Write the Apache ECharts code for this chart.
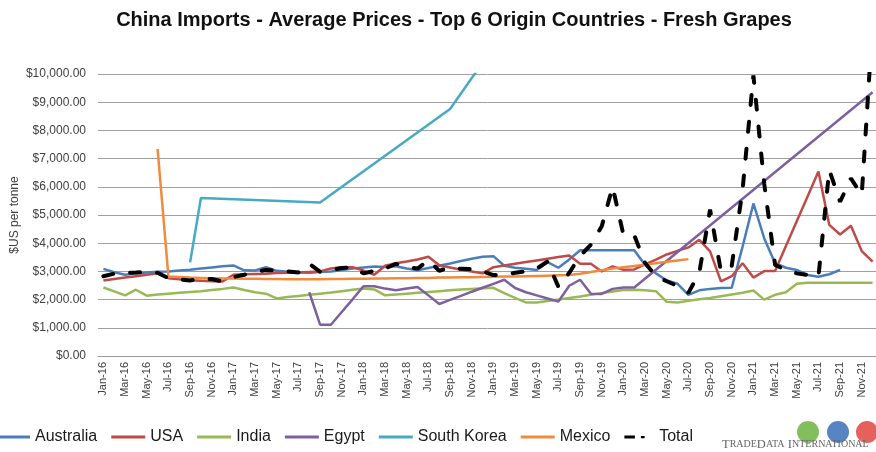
<!DOCTYPE html>
<html>
<head>
<meta charset="utf-8">
<title>China Imports - Average Prices - Fresh Grapes</title>
<script src="https://cdn.jsdelivr.net/npm/echarts@6/dist/echarts.min.js"></script>
<style>
  html, body { margin: 0; padding: 0; background: #fff; }
  #chart { width: 876px; height: 452px; }
</style>
</head>
<body>
<div id="chart"></div>
<script>
// months Jan-16 .. Dec-21
const months = [
  'Jan-16','Feb-16','Mar-16','Apr-16','May-16','Jun-16','Jul-16','Aug-16','Sep-16','Oct-16','Nov-16','Dec-16',
  'Jan-17','Feb-17','Mar-17','Apr-17','May-17','Jun-17','Jul-17','Aug-17','Sep-17','Oct-17','Nov-17','Dec-17',
  'Jan-18','Feb-18','Mar-18','Apr-18','May-18','Jun-18','Jul-18','Aug-18','Sep-18','Oct-18','Nov-18','Dec-18',
  'Jan-19','Feb-19','Mar-19','Apr-19','May-19','Jun-19','Jul-19','Aug-19','Sep-19','Oct-19','Nov-19','Dec-19',
  'Jan-20','Feb-20','Mar-20','Apr-20','May-20','Jun-20','Jul-20','Aug-20','Sep-20','Oct-20','Nov-20','Dec-20',
  'Jan-21','Feb-21','Mar-21','Apr-21','May-21','Jun-21','Jul-21','Aug-21','Sep-21','Oct-21','Nov-21','Dec-21'
];

// $US per tonne, null = no imports that month
const australia = [
  3090, 2970, 2880, 2930, 2960, 2990, 3000, 3030, 3060, 3100, 3140, 3180,
  3210, 3040, 3030, 3150, 3020, 2990, 2970, 2950, 2980, 3000, 3050, 3100,
  3140, 3170, 3160, 3180, 3100, 3040, 3120, 3200, 3280, 3370, 3450, 3520,
  3540, 3200, 3130, 3090, 3050, 3330, 3130, 3420, 3750, 3750, 3750, 3750,
  3750, 3750, 3230, 2930, 2680, 2560, 2170, 2330, 2380, 2410, 2420, 3880,
  5410, 4170, 3290, 3130, 3050, 2870, 2810, 2900, 3050, null, null, null
];
const usa = [
  2680, 2730, 2780, 2830, 2880, 2930, 2760, 2720, 2690, 2670, 2650, 2640,
  2880, 2900, 2910, 2920, 2940, 2950, 2960, 2980, 3000, 3100, 3150, 3150,
  3030, 2880, 3200, 3290, 3350, 3420, 3520, 3220, 3140, 3060, 3000, 2930,
  3150, 3210, 3270, 3330, 3390, 3450, 3510, 3560, 3270, 3270, 3000, 3180,
  3060, 3070, 3250, 3420, 3600, 3730, 3850, 4120, 3710, 2650, 2830, 3290,
  2780, 3010, 3010, 3900, 4780, 5660, 6540, 4650, 4310, 4620, 3720, 3345
];
const india = [
  2430, 2290, 2150, 2350, 2140, 2180, 2210, 2240, 2270, 2300, 2340, 2380,
  2430, 2340, 2260, 2210, 2040, 2090, 2130, 2170, 2210, 2250, 2300, 2350,
  2390, 2360, 2150, 2180, 2210, 2240, 2270, 2300, 2330, 2360, 2380, 2400,
  2420, 2230, 2060, 1900, 1900, 1950, 2000, 2060, 2110, 2170, 2230, 2290,
  2340, 2350, 2330, 2300, 1920, 1900, 1960, 2010, 2060, 2120, 2180, 2240,
  2320, 2000, 2170, 2260, 2560, 2600, 2600, 2600, 2600, 2600, 2600, 2600
];
const egypt = [
  null, null, null, null, null, null, null, null, null, null, null, null,
  null, null, null, null, null, null, null, 2260, 1110, 1110, 1560, 2010,
  2470, 2470, 2390, 2330, 2390, 2450, 2150, 1845, 1990, 2130, 2280, 2420,
  2560, 2705, 2410, 2260, 2150, 2040, 1930, 2490, 2705, 2210, 2200, 2380,
  2430, 2430, null, null, null, null, null, null, null, null, null, null,
  null, null, null, null, null, null, null, null, null, null, null, 9350
];
const southKorea = [
  null, null, null, null, null, null, null, null, 3320, 5600, null, null,
  null, null, null, null, null, null, null, null, 5440, null, null, null,
  null, null, null, null, null, null, null, null, 8760, null, null, null,
  10950, null, null, null, null, null, null, null, null, null, null, null,
  null, null, null, null, null, null, null, null, null, null, null, null,
  null, null, null, null, null, null, null, null, null, null, null, null
];
const mexico = [
  null, null, null, null, null, 7340, 2820, 2800, 2780, 2770, 2760, 2750,
  2750, 2740, 2740, 2730, 2730, 2720, 2720, 2720, 2720, 2730, 2730, 2740,
  2740, 2750, 2750, 2760, 2760, 2770, 2770, 2780, 2780, 2790, 2790, 2800,
  2810, 2820, 2820, 2830, 2840, 2850, 2860, 2870, 2920, 2980, 3040, 3100,
  3150, 3190, 3240, 3290, 3340, 3390, 3435, null, null, null, null, null,
  null, null, null, null, null, null, null, null, null, null, null, null
];
const total = [
  2830, 2920, 2950, 2960, 2980, 2950, 2760, 2720, 2680, 2730, 2730, 2640,
  2800, 2880, 2980, 3050, 3030, 3000, 2960, 3270, 2990, 3050, 3120, 3150,
  2930, 3020, 3100, 3270, 3150, 3100, 3400, 3020, 3150, 3090, 3080, 3000,
  2870, 2880, 2950, 3000, 3100, 3350, 2450, 2950, 3550, 3950, 4600, 6000,
  4300, 4280, 3300, 2830, 2650, 2480, 2240, 2950, 5190, 3000, 3200, 5900,
  9950, 6100, 3230, 3050, 2930, 2870, 2810, 6600, 5470, 6300, 5710, 11800
];

const seriesDefs = [
  { name: 'Australia', data: australia, color: '#4a7ebb' },
  { name: 'USA', data: usa, color: '#be4b48' },
  { name: 'India', data: india, color: '#98b954' },
  { name: 'Egypt', data: egypt, color: '#7d60a0' },
  { name: 'South Korea', data: southKorea, color: '#46aac5' },
  { name: 'Mexico', data: mexico, color: '#f08a3c' },
  { name: 'Total', data: total, color: '#000000', dashed: true }
];

// legend keys: plain bar for solid lines, dash + dot for Total
const lineKey = 'path://M0,0H34V3H0Z';
const dashKey = 'path://M0,0H14V4H0Z M22,0.5H27V3.5H22Z M34,0H34.01V4H34Z';

function money(v) {
  const s = String(Math.round(v)).replace(/\B(?=(\d{3})+(?!\d))/g, ',');
  return '$' + s + '.00';
}

const chart = echarts.init(document.getElementById('chart'), null, { renderer: 'canvas' });

const option = {
  animation: false,
  backgroundColor: '#ffffff',
  grid: { left: 98, top: 74, width: 780, height: 282, containLabel: false, outerBoundsMode: 'none' },
  legend: {
    left: -9,
    top: 424,
    itemWidth: 34,
    itemHeight: 3,
    itemGap: 14,
    textStyle: { fontFamily: 'Liberation Sans', fontSize: 16, color: '#1a1a1a' },
    data: seriesDefs.map(s => ({
      name: s.name,
      icon: s.dashed ? dashKey : lineKey,
      itemStyle: { color: s.color }
    }))
  },
  xAxis: {
    type: 'category',
    data: months,
    boundaryGap: true,
    axisLine: { lineStyle: { color: '#999', width: 1 } },
    axisTick: { show: false },
    axisLabel: {
      interval: 1,
      rotate: 90,
      margin: 6,
      fontFamily: 'Liberation Sans',
      fontSize: 11,
      color: '#404040'
    },
    splitLine: { show: false }
  },
  yAxis: {
    type: 'value',
    min: 0,
    max: 10000,
    interval: 1000,
    name: '$US per tonne',
    nameLocation: 'middle',
    nameRotate: 90,
    nameGap: 77,
    nameMoveOverlap: false,
    nameTextStyle: { fontFamily: 'Liberation Sans', fontSize: 12, color: '#404040' },
    axisLine: { show: false },
    axisTick: { show: false },
    axisLabel: {
      margin: 12,
      fontFamily: 'Liberation Sans',
      fontSize: 12,
      color: '#404040',
      formatter: money
    },
    splitLine: { lineStyle: { color: '#a0a0a0', width: 1 } }
  },
  series: seriesDefs.map(s => ({
    name: s.name,
    type: 'line',
    data: s.data,
    connectNulls: true,
    showSymbol: false,
    symbol: 'none',
    clip: true,
    color: s.color,
    lineStyle: s.dashed
      ? { color: s.color, width: 4, type: [10, 17], cap: 'round' }
      : { color: s.color, width: 2.5 },
    z: s.dashed ? 5 : 2
  })),
  graphic: [
    {
      type: 'text',
      x: 454,
      y: 20,
      style: {
        text: 'China Imports - Average Prices - Top 6 Origin Countries - Fresh Grapes',
        fontFamily: 'Liberation Sans',
        fontWeight: 'bold',
        fontSize: 20,
        fill: '#111',
        align: 'center',
        verticalAlign: 'middle'
      }
    },
    { type: 'circle', shape: { cx: 808, cy: 432, r: 11 }, style: { fill: '#6db33f', opacity: 0.85 } },
    { type: 'circle', shape: { cx: 838, cy: 432, r: 11 }, style: { fill: '#3a6fb8', opacity: 0.85 } },
    { type: 'circle', shape: { cx: 867, cy: 432, r: 11 }, style: { fill: '#e0463f', opacity: 0.85 } },
    {
      type: 'text',
      x: 722,
      y: 451,
      style: {
        text: '{b|T}{s|RADE}{b|D}{s|ATA} {b|I}{s|NTERNATIONAL}',
        verticalAlign: 'bottom',
        rich: {
          b: { fontFamily: 'Liberation Serif', fontSize: 12.5, fill: '#666' },
          s: { fontFamily: 'Liberation Serif', fontSize: 10, fill: '#666' }
        }
      }
    }
  ]
};

chart.setOption(option);
</script>
</body>
</html>
